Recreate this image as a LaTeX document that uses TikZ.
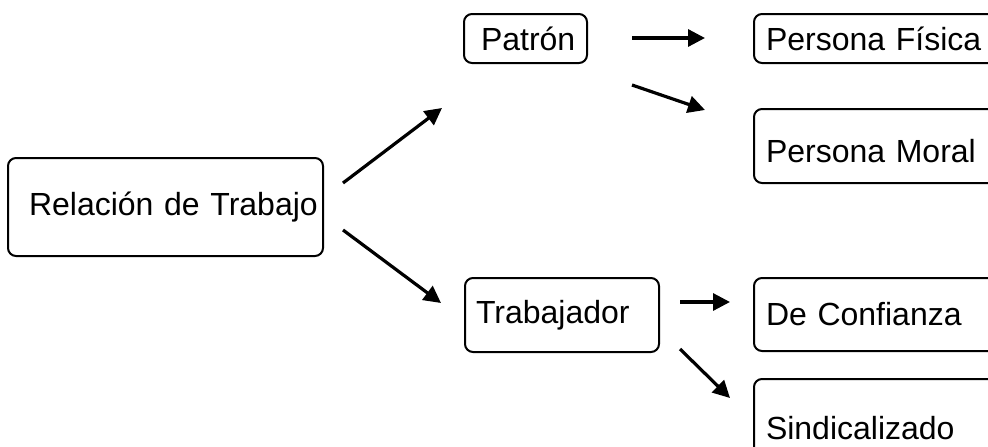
\documentclass[tikz,border=0pt]{standalone}
\usepackage{fontspec}
\setmainfont{Liberation Sans}
\usetikzlibrary{arrows.meta}
\tikzset{
  box/.style={draw=black, line width=2pt, rounded corners=8pt, inner sep=0pt,
    anchor=north west, align=left, font=\fontsize{32}{38}\selectfont},
  arr/.style={line width=3.2pt, -{Triangle[length=17pt,width=17pt]}}
}
\begin{document}
\begin{tikzpicture}[x=1pt,y=-1pt]
\clip (0,0) rectangle (988,447);
\fill[white] (0,0) rectangle (988,447);
% boxes
\node[box, text width=315pt, minimum height=98pt] (rel) at (7,157) {\hspace*{21pt}Relación de Trabajo};
\node[box, text width=123pt, minimum height=49pt] (pat) at (463,13) {\hspace*{17pt}Patrón};
\node[box, text width=194pt, minimum height=74pt] (trab) at (464,277) {\hspace*{11pt}Trabajador};
\node[box, text width=260pt, minimum height=49pt] (fis) at (753,13) {\hspace*{12pt}Persona Física};
\node[box, text width=260pt, minimum height=74pt, text height=33pt, text depth=0pt] (mor) at (753,108) {\hspace*{12pt}Persona Moral};
\node[box, text width=260pt, minimum height=73pt] (conf) at (753,277) {\hspace*{12pt}De Confianza};
\node[box, text width=260pt, minimum height=98pt] (sind) at (753,378) {\hspace*{12pt}Sindicalizado};
% connector ends
\coordinate (a1s) at (343,183); \coordinate (a1e) at (442,108);
\coordinate (a2s) at (343,230); \coordinate (a2e) at (441,303);
\coordinate (a3s) at (632,38);  \coordinate (a3e) at (705,38);
\coordinate (a4s) at (632,85);  \coordinate (a4e) at (705,110);
\coordinate (a5s) at (680,302); \coordinate (a5e) at (730,302);
\coordinate (a6s) at (680,349); \coordinate (a6e) at (730,398);
\draw[arr] (a1s) -- (a1e);
\draw[arr] (a2s) -- (a2e);
\draw[arr] (a3s) -- (a3e);
\draw[arr] (a4s) -- (a4e);
\draw[arr] (a5s) -- (a5e);
\draw[arr] (a6s) -- (a6e);
\end{tikzpicture}
\end{document}
